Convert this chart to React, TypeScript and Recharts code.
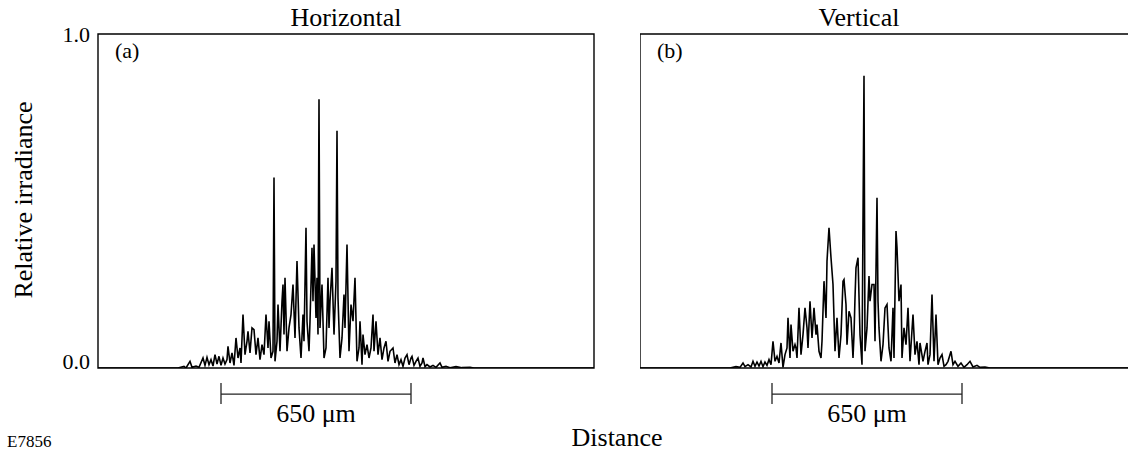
import React from 'react';
import { LineChart, Line, XAxis, YAxis, ReferenceArea, ReferenceLine } from 'recharts';

// positions are detector pixels across each panel (0..496), values are relative irradiance
const hPos = [
  0, 80, 86, 88, 92, 94, 98, 101, 105, 107,
  109, 111, 113, 115, 117, 119, 121, 123, 125, 127,
  129, 130, 132, 134, 136, 138, 140, 142, 143, 145,
  147, 149, 150, 152, 154, 156, 158, 160, 162, 164,
  166, 168, 170, 171, 173, 175, 176, 177, 179, 180,
  182, 184, 185, 186, 187, 189, 191, 193, 195, 197,
  199, 201, 203, 205, 206, 208, 209, 211, 212, 214,
  215, 216, 218, 219, 220, 221, 222, 224, 226, 228,
  230, 231, 232, 234, 236, 238, 239, 240, 242, 244,
  246, 247, 249, 251, 253, 255, 257, 259, 261, 262,
  264, 265, 267, 269, 271, 273, 275, 276, 278, 280,
  282, 284, 286, 288, 290, 292, 295, 297, 299, 301,
  303, 305, 307, 309, 311, 313, 314, 316, 318, 320,
  322, 324, 325, 327, 329, 332, 335, 338, 342, 344,
  348, 352, 358, 364, 372, 376, 496,
];
const hVal = [
  0, 0, 0.005, 0, 0.02, 0.002, 0.006, 0.002, 0.03, 0.008,
  0.032, 0.01, 0.025, 0.006, 0.04, 0.012, 0.035, 0.008, 0.03, 0.012,
  0.025, 0.065, 0.015, 0.045, 0.008, 0.09, 0.03, 0.06, 0.015, 0.16,
  0.04, 0.08, 0.11, 0.045, 0.12, 0.115, 0.04, 0.09, 0.025, 0.07,
  0.04, 0.16, 0.06, 0.14, 0.03, 0.05, 0.57, 0.02, 0.08, 0.19,
  0.05, 0.2, 0.25, 0.1, 0.27, 0.05, 0.12, 0.16, 0.25, 0.09,
  0.32, 0.12, 0.03, 0.16, 0.08, 0.42, 0.14, 0.05, 0.14, 0.36,
  0.2, 0.37, 0.15, 0.27, 0.1, 0.805, 0.12, 0.25, 0.03, 0.06,
  0.27, 0.12, 0.2, 0.3, 0.1, 0.26, 0.71, 0.21, 0.03, 0.09,
  0.22, 0.12, 0.37, 0.05, 0.19, 0.14, 0.27, 0.02, 0.06, 0.14,
  0.01, 0.1, 0.04, 0.07, 0.03, 0.06, 0.16, 0.05, 0.14, 0.04,
  0.09, 0.025, 0.06, 0.08, 0.02, 0.05, 0.06, 0.015, 0.04, 0.01,
  0.025, 0.005, 0.03, 0.04, 0.01, 0.03, 0.035, 0.008, 0.02, 0.03,
  0.005, 0.015, 0.03, 0.004, 0.01, 0.003, 0.008, 0.002, 0.015, 0.002,
  0.005, 0.001, 0.004, 0.001, 0.002, 0, 0,
];

const vPos = [
  0, 90, 96, 100, 103, 105, 108, 111, 113, 115,
  117, 119, 121, 123, 125, 127, 129, 131, 133, 135,
  137, 139, 141, 143, 145, 147, 148, 150, 151, 153,
  155, 156, 157, 159, 161, 163, 165, 167, 168, 170,
  172, 174, 176, 177, 179, 181, 182, 184, 186, 187,
  189, 191, 193, 195, 197, 199, 201, 203, 204, 206,
  207, 209, 211, 213, 214, 215, 216, 218, 220, 222,
  224, 225, 227, 229, 230, 232, 234, 235, 237, 238,
  239, 241, 243, 245, 247, 249, 251, 253, 254, 256,
  257, 259, 261, 262, 264, 266, 268, 270, 273, 275,
  277, 279, 280, 283, 285, 287, 288, 290, 292, 294,
  296, 298, 300, 302, 304, 306, 308, 311, 313, 315,
  318, 321, 324, 327, 330, 333, 337, 340, 345, 350,
  496,
];
const vVal = [
  0, 0, 0.004, 0.002, 0.015, 0.004, 0.01, 0.003, 0.02, 0.005,
  0.018, 0.006, 0.02, 0.004, 0.018, 0.008, 0.025, 0.01, 0.08, 0.02,
  0.035, 0.015, 0.075, 0.002, 0.04, 0.06, 0.15, 0.03, 0.13, 0.05,
  0.07, 0.06, 0.03, 0.18, 0.04, 0.1, 0.18, 0.12, 0.06, 0.2,
  0.09, 0.18, 0.1, 0.13, 0.05, 0.03, 0.08, 0.26, 0.15, 0.32,
  0.42, 0.33, 0.25, 0.05, 0.15, 0.03, 0.1, 0.26, 0.265, 0.19,
  0.07, 0.17, 0.15, 0.03, 0.1, 0.21, 0.3, 0.33, 0.1, 0.01,
  0.875, 0.05, 0.12, 0.275, 0.2, 0.25, 0.25, 0.08, 0.51, 0.2,
  0.12, 0.02, 0.07, 0.18, 0.19, 0.06, 0.02, 0.18, 0.03, 0.41,
  0.36, 0.2, 0.25, 0.03, 0.12, 0.07, 0.18, 0.02, 0.16, 0.04,
  0.08, 0.01, 0.075, 0.02, 0.05, 0.075, 0.01, 0.04, 0.22, 0.02,
  0.16, 0.01, 0.03, 0.04, 0.005, 0.01, 0.02, 0.05, 0.01, 0.02,
  0.005, 0.015, 0.002, 0.01, 0.02, 0.003, 0.008, 0.002, 0.003, 0,
  0,
];

const yTicks = [0, 1];
const xDomain = [0, 496];
const barH = [123, 313]; // 650 µm
const barV = [132, 322];

const FONT = '"Liberation Serif", "Times New Roman", serif';
const BAR_Y = -0.078;
const BAR_TOP = -0.045;
const BAR_BOT = -0.108;

function Txt({ x, base, size, center, children }: any) {
  return (
    <div
      style={{
        position: 'absolute',
        left: x,
        top: base - 0.8375 * size,
        fontSize: size,
        lineHeight: `${size}px`,
        whiteSpace: 'nowrap',
        transform: center ? 'translateX(-50%)' : undefined,
        color: '#000',
      }}
    >
      {children}
    </div>
  );
}

function YTick({ x, y, payload }: any) {
  const shift = payload.value === 0 ? -7 : 0;
  return (
    <text x={x} y={y + shift} dy="0.35em" textAnchor="end" fontSize={22} fontFamily={FONT} fill="#000">
      {Number(payload.value).toFixed(1)}
    </text>
  );
}

function Panel({ pos, val, bar, showY, left, width, marginLeft, marginRight }: any) {
  const data = pos.map((p: number, i: number) => ({ d: p, r: val[i] }));
  return (
    <div style={{ position: 'absolute', left, top: 0 }}>
      <LineChart
        width={width}
        height={453}
        data={data}
        margin={{ top: 34, right: marginRight, bottom: 85, left: marginLeft }}
      >
        <XAxis dataKey="d" type="number" domain={xDomain} hide />
        <YAxis
          type="number"
          domain={[0, 1]}
          ticks={yTicks}
          hide={!showY}
          width={60}
          axisLine={false}
          tickLine={false}
          tickSize={0}
          tickMargin={8}
          tick={<YTick />}
          allowDataOverflow
        />
        <ReferenceArea
          x1={xDomain[0]}
          x2={xDomain[1]}
          y1={0}
          y2={1}
          fill="none"
          fillOpacity={0}
          stroke="#000"
          strokeWidth={1.4}
          ifOverflow="visible"
        />
        <Line
          type="linear"
          dataKey="r"
          stroke="#000"
          strokeWidth={1.6}
          dot={false}
          isAnimationActive={false}
        />
        <ReferenceLine
          segment={[{ x: bar[0], y: BAR_Y }, { x: bar[1], y: BAR_Y }]}
          stroke="#222"
          strokeWidth={1.3}
          ifOverflow="visible"
        />
        <ReferenceLine
          segment={[{ x: bar[0], y: BAR_TOP }, { x: bar[0], y: BAR_BOT }]}
          stroke="#222"
          strokeWidth={1.3}
          ifOverflow="visible"
        />
        <ReferenceLine
          segment={[{ x: bar[1], y: BAR_TOP }, { x: bar[1], y: BAR_BOT }]}
          stroke="#222"
          strokeWidth={1.3}
          ifOverflow="visible"
        />
      </LineChart>
    </div>
  );
}

export default function App() {
  return (
    <div
      style={{
        position: 'absolute',
        left: 0,
        top: 0,
        width: 1128,
        height: 453,
        overflow: 'hidden',
        background: '#fff',
        fontFamily: FONT,
      }}
    >
      <Panel pos={hPos} val={hVal} bar={barH} showY left={0} width={600} marginLeft={38} marginRight={6} />
      <Panel pos={vPos} val={vVal} bar={barV} showY={false} left={640} width={500} marginLeft={0} marginRight={4} />

      <Txt x={346} base={27} size={26} center>Horizontal</Txt>
      <Txt x={859} base={27} size={26} center>Vertical</Txt>
      <Txt x={115} base={58} size={22}>(a)</Txt>
      <Txt x={657} base={58} size={22}>(b)</Txt>
      <Txt x={316} base={423} size={26} center>650 μm</Txt>
      <Txt x={867} base={423} size={26} center>650 μm</Txt>
      <Txt x={617} base={447} size={26} center>Distance</Txt>
      <Txt x={7} base={447} size={17}>E7856</Txt>

      <div
        style={{
          position: 'absolute',
          left: 24,
          top: 200,
          fontSize: 26,
          lineHeight: '26px',
          whiteSpace: 'nowrap',
          transform: 'translate(-50%, -50%) rotate(-90deg)',
        }}
      >
        Relative irradiance
      </div>
    </div>
  );
}
